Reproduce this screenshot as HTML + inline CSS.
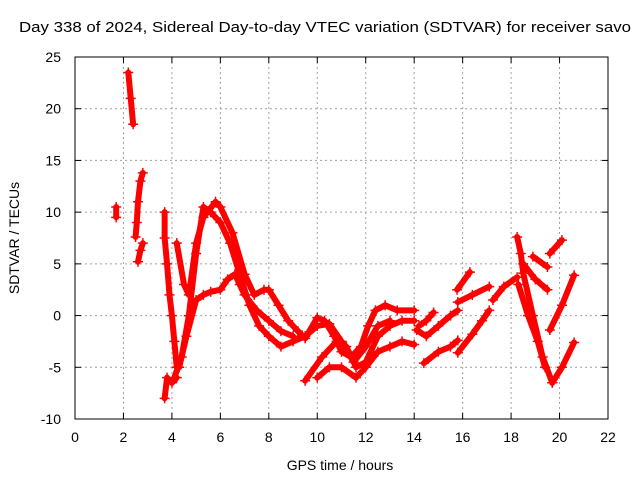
<!DOCTYPE html>
<html><head><meta charset="utf-8"><style>
body{margin:0;background:#fff}
svg{display:block;font-family:"Liberation Sans",sans-serif}
</style></head><body>
<svg id="chart" width="640" height="480">
<text x="325" y="32" text-anchor="middle" font-size="15" textLength="612" lengthAdjust="spacingAndGlyphs">Day 338 of 2024, Sidereal Day-to-day VTEC variation (SDTVAR) for receiver savo</text>
<g id="grid"></g><g id="marks"></g><g id="axes"></g>
<text x="340" y="470" text-anchor="middle" font-size="14">GPS time / hours</text>
<text transform="translate(19,238) rotate(-90)" text-anchor="middle" font-size="14">SDTVAR / TECUs</text>
</svg>
<script>
const xTicks=[0,2,4,6,8,10,12,14,16,18,20,22];
const yTicks=[-10,-5,0,5,10,15,20,25];
const tracks=[
[[2.2,23.5],[2.3,21],[2.4,18.5]],
[[1.7,10.5],[1.7,9.5]],
[[2.5,7.6],[2.55,9],[2.6,11],[2.7,13],[2.8,13.8]],
[[2.6,5.2],[2.7,6.3],[2.8,7]],
[[3.7,10],[3.7,7.5],[3.8,5],[3.9,2],[4.0,0],[4.1,-2.5],[4.2,-5]],
[[3.7,-8],[3.8,-6],[4.0,-6.5],[4.2,-6]],
[[4.1,-6],[4.4,-4],[4.7,0],[5.0,6],[5.3,10.5],[5.6,10],[6.0,9],[6.4,7],[6.8,4],[7.2,1],[7.6,-1],[8.0,-2],[8.5,-3],[9.0,-2.5],[9.5,-2]],
[[4.3,-5],[4.6,-2],[5.0,1.5],[5.3,2],[5.6,2.3],[6.0,2.5],[6.3,3.5],[6.6,4],[6.8,3],[7.0,2],[7.5,0.5],[8,-0.5],[8.5,-1.5],[9,-2]],
[[4.2,7],[4.5,3],[4.7,2],[5.0,7],[5.3,9.5],[5.8,11],[6.0,10.5],[6.5,8],[7.0,4],[7.4,2],[7.8,2.5],[8.0,2.5],[8.4,1],[8.8,-0.5],[9.2,-1.5],[9.5,-2.2],[10,-0.2],[10.3,-0.5],[10.7,-2],[11,-3.5],[11.4,-4],[11.8,-3],[12.1,-1],[12.4,0.5],[12.8,1],[13.3,0.5],[14,0.5]],
[[9.5,-6.3],[10.2,-4],[10.8,-2.5],[11.2,-3],[11.6,-5],[12.0,-4.5],[12.5,-2],[13,-1],[13.5,-0.5],[14,-0.5]],
[[10.0,-6],[10.5,-5],[11,-5],[11.6,-6],[12,-5],[12.5,-3.5],[13,-3],[13.5,-2.5],[14,-2.8]],
[[9.5,-2],[10,-1],[10.5,-0.8],[11,-2.5],[11.5,-4.5],[12,-3],[12.5,-1],[13,-0.5]],
[[14.1,-1.4],[14.5,-2],[15,-1],[15.5,0],[15.8,0.5]],
[[14.2,-1],[14.5,-0.5],[14.8,0.3]],
[[14.4,-4.6],[15,-3.5],[15.5,-3],[15.8,-2.4]],
[[15.8,-3.6],[16.4,-1.8],[16.8,-0.5],[17.1,0.5]],
[[15.8,1.3],[16.4,2],[17.1,2.8]],
[[15.77,2.5],[16.3,4.2]],
[[17.25,1.5],[17.7,2.8],[18.25,3.7]],
[[18.25,7.6],[18.4,6],[18.5,4.1],[18.9,0],[19.3,-4],[19.7,-6.5]],
[[18.3,3],[18.7,0],[19.1,-2.5],[19.4,-5]],
[[18.5,5],[19,3.5],[19.5,2.5]],
[[18.9,5.7],[19.5,4.7]],
[[19.6,6],[20.1,7.3]],
[[19.6,-1.4],[20.1,1],[20.6,3.9]],
[[19.7,-6.5],[20.1,-5],[20.6,-2.6]]
];
const X0=75,X1=608,Y0=419,Y1=57;
const sx=v=>X0+(v-0)/(22-0)*(X1-X0);
const sy=v=>Y0-(v+10)/(35)*(Y0-Y1);
const NS="http://www.w3.org/2000/svg";
function mk(t,a,p){const e=document.createElementNS(NS,t);for(const k in a)e.setAttribute(k,a[k]);p.appendChild(e);return e;}
const grid=document.getElementById('grid'),axes=document.getElementById('axes'),marks=document.getElementById('marks');
xTicks.forEach(t=>{const x=sx(t);
 if(t>0&&t<22){const l=mk('line',{x1:x,x2:x,y1:Y0,y2:Y1,stroke:'#a0a0a0','stroke-dasharray':'2,3'},grid);
 
 }
 mk('line',{x1:x,x2:x,y1:Y0,y2:Y0-6,stroke:'#000'},axes);
 mk('line',{x1:x,x2:x,y1:Y1,y2:Y1+6,stroke:'#000'},axes);
 const tx=mk('text',{x:x,y:442,'text-anchor':'middle','font-size':14},axes);tx.textContent=t;
 
 
});
yTicks.forEach(t=>{const y=sy(t);
 if(t>-10&&t<25){const l=mk('line',{x1:X0,x2:X1,y1:y,y2:y,stroke:'#a0a0a0','stroke-dasharray':'2,3'},grid);
 
 }
 mk('line',{x1:X0,x2:X0+6,y1:y,y2:y,stroke:'#000'},axes);
 mk('line',{x1:X1,x2:X1-6,y1:y,y2:y,stroke:'#000'},axes);
 const tx=mk('text',{x:61,y:y+5,'text-anchor':'end','font-size':14},axes);tx.textContent=t;
 
 
});
const fr=mk('rect',{x:X0,y:Y1,width:X1-X0,height:Y0-Y1,fill:'none',stroke:'#000'},axes);


tracks.forEach(tr=>{
 const p=mk('polyline',{points:tr.map(d=>sx(d[0])+','+sy(d[1])).join(' '),fill:'none',stroke:'#ff0000','stroke-width':6,'stroke-linejoin':'round','stroke-linecap':'round'},marks);
 
 
 tr.forEach(d=>{const x=sx(d[0]),y=sy(d[1]);
  const m=mk('path',{d:`M${x-5},${y}H${x+5}M${x},${y-5}V${y+5}`,stroke:'#ff0000','stroke-width':1.5},marks);
  
  
 });
});
</script>
</body></html>
